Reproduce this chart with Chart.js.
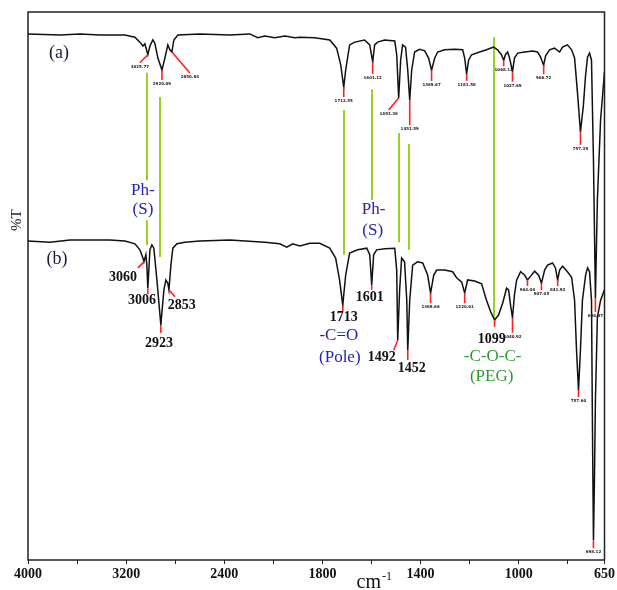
<!DOCTYPE html>
<html><head><meta charset="utf-8">
<script src="https://cdn.jsdelivr.net/npm/chart.js@4.4.0/dist/chart.umd.min.js"></script>
<style>html,body{margin:0;padding:0;background:#fff;}</style>
</head><body>
<canvas id="c" width="617" height="590"></canvas>
<script>
// ---- spectrum (a) ----
const wavenumberA = [4000,3739,3576,3414,3210,3128,3088,3063,3047,3023,3006,2982,2966,2941,2908,2884,2860,2843,2827,2811,2778,2599,2355,2192,2127,2069,1994,1953,1913,1892,1831,1770,1742,1725,1713,1705,1689,1668,1628,1607,1595,1587,1575,1546,1505,1497,1489,1481,1473,1461,1452,1444,1436,1424,1404,1383,1367,1355,1342,1330,1302,1261,1228,1220,1212,1204,1192,1159,1131,1102,1086,1070,1061,1053,1045,1037,1025,1017,1004,976,943,923,911,898,890,874,854,833,821,801,784,772,760,748,736,727,719,711,703,695,687,679,666,650];
const transA = [96.0,95.8,96.0,95.8,95.8,95.4,94.5,93.8,94.2,92.2,93.8,94.9,94.3,91.6,89.4,91.6,94.0,93.1,92.7,94.9,95.8,96.0,95.8,96.0,95.3,95.6,95.3,95.6,95.3,95.4,95.3,94.9,93.4,90.3,86.3,89.4,94.0,94.5,94.9,94.0,90.9,94.0,94.5,94.9,94.7,92.2,84.3,91.2,94.0,93.6,89.4,83.9,89.4,92.7,93.2,92.9,91.6,89.4,91.6,92.7,93.1,93.2,93.1,91.6,88.7,91.2,92.2,92.7,93.1,93.6,93.1,92.2,91.2,92.3,92.7,91.6,89.1,91.6,92.5,92.7,92.9,92.7,91.8,90.3,92.0,93.1,93.4,92.7,93.6,94.0,93.1,91.6,85.2,78.1,83.0,88.5,91.8,92.5,91.2,73.0,47.8,65.7,80.3,89.1];
// ---- spectrum (b) ----
const wavenumberB = [4000,3821,3658,3495,3332,3210,3128,3088,3063,3055,3039,3031,3023,3006,2990,2974,2949,2917,2892,2876,2860,2851,2835,2819,2786,2721,2599,2355,2069,1974,1945,1921,1892,1851,1811,1770,1746,1730,1717,1705,1689,1656,1619,1607,1599,1591,1579,1546,1505,1497,1493,1485,1477,1465,1456,1452,1444,1432,1412,1391,1371,1359,1346,1334,1302,1269,1253,1232,1220,1208,1179,1151,1131,1114,1098,1082,1065,1049,1041,1033,1025,1017,1008,992,976,964,951,935,919,907,894,882,862,850,841,833,821,801,784,772,764,756,748,740,727,719,711,703,699,695,691,687,679,666,650];
const transB = [58.2,58.0,58.4,58.4,58.4,58.2,57.7,56.6,55.1,54.4,55.7,53.8,49.6,56.6,57.5,56.9,51.1,42.9,49.3,51.1,50.5,49.3,53.8,56.9,57.7,58.0,58.2,58.4,58.0,57.7,57.1,57.7,57.3,57.8,57.8,56.9,55.1,51.1,46.5,52.0,56.0,56.6,56.9,55.7,50.2,55.7,56.6,56.8,56.9,52.9,40.1,49.3,55.1,54.4,47.4,38.3,47.4,53.8,54.4,54.2,52.0,48.7,52.0,52.9,52.9,52.6,51.5,50.7,48.7,51.1,50.9,50.4,47.4,45.3,43.8,44.7,46.9,49.6,49.3,46.5,44.2,48.4,51.1,52.6,52.0,51.1,51.8,52.7,52.0,50.5,52.9,53.8,54.2,53.3,51.1,52.9,53.6,52.6,51.6,47.4,38.3,31.0,38.3,47.4,52.0,53.3,52.6,47.4,23.7,3.6,14.6,29.2,44.3,47.4,49.3];

// ---- axis ticks ----
const tickValues = [4000,3600,3200,2800,2400,2000,1800,1600,1400,1200,1000,800,650];
const tickLabels = ['4000','','3200','','2400','','1800','','1400','','1000','','650'];

// ---- annotations ----
const greenLines = [ // wavenumber, from %T, to %T
  [3031,88.9,69.3],[3031,62.0,57.5],[2925,84.5,55.3],[1713,82.1,55.7],
  [1599,85.9,65.7],[1489,77.9,58.0],[1448,75.9,56.6],[1102,95.4,44.2]
];
const peakMarksA = [ // wavenumber, %T, leader dx, dy, small label
  [3023,92.2,-8,8,'3025.77'],[2908,89.4,0,10,'2920.09'],[2827,92.7,18,21,'2850.84'],
  [1713,86.3,0,10,'1712.55'],[1595,90.9,0,12,'1601.12'],[1489,84.3,-10,12,'1492.38'],
  [1444,83.9,0,25,'1451.59'],[1355,89.4,0,11,'1369.67'],[1212,88.7,0,7,'1181.58'],
  [1061,91.2,0,6,'1068.13'],[1025,89.1,0,10,'1027.69'],[898,90.3,0,9,'906.72'],
  [748,78.1,0,13,'757.39'],[687,47.8,0,14,'698.57']
];
const peakMarksB = [
  [3055,54.4,-6,6,''],[3023,49.6,0,6,''],[2917,42.9,0,8,''],[2851,49.3,6,7,''],
  [1717,46.5,0,6,''],[1599,50.2,0,5,''],[1493,40.1,-4,10,''],[1452,38.3,0,10,''],
  [1098,43.8,0,7,''],[1359,48.7,0,10,'1369.86'],[1220,48.7,0,10,'1220.61'],
  [1025,44.2,0,15,'1040.92'],[964,51.1,0,6,'964.00'],[907,50.5,0,7,'907.05'],
  [841,51.1,0,6,'841.92'],[756,31.0,0,7,'757.60'],[695,3.6,0,8,'698.12']
];
const textLabels = [ // text, wavenumber, %T, colour, font
  ['(a)',3747,92.5,'#1a1a3a','18px "Liberation Serif"'],
  ['(b)',3764,54.9,'#1a1a3a','18px "Liberation Serif"'],
  ['Ph-',3063,67.5,'#2424b0','17px "Liberation Serif"'],
  ['(S)',3063,63.9,'#2424b0','17px "Liberation Serif"'],
  ['Ph-',1591,63.9,'#2424b0','17px "Liberation Serif"'],
  ['(S)',1595,60.2,'#2424b0','17px "Liberation Serif"'],
  ['3060',3226,51.5,'#111','bold 14px "Liberation Serif"'],
  ['3006',3071,47.3,'#111','bold 14px "Liberation Serif"'],
  ['2853',2746,46.4,'#111','bold 14px "Liberation Serif"'],
  ['2923',2933,39.6,'#111','bold 14px "Liberation Serif"'],
  ['1713',1713,44.3,'#111','bold 14px "Liberation Serif"'],
  ['-C=O',1733,40.9,'#2424b0','17px "Liberation Serif"'],
  ['(Pole)',1729,37.0,'#2424b0','17px "Liberation Serif"'],
  ['1601',1607,48.0,'#111','bold 14px "Liberation Serif"'],
  ['1492',1558,37.0,'#111','bold 14px "Liberation Serif"'],
  ['1452',1436,34.9,'#111','bold 14px "Liberation Serif"'],
  ['1099',1110,40.3,'#111','bold 14px "Liberation Serif"'],
  ['-C-O-C-',1106,37.2,'#2e9a2e','17px "Liberation Serif"'],
  ['(PEG)',1110,33.4,'#2e9a2e','17px "Liberation Serif"']
];

// broken wavenumber axis: 4000-2000 compressed by 2
function toAxis(w){ return w >= 2000 ? 2000 + (w - 2000) / 2 : w; }
function pts(ws, ts){ return ws.map((w,i)=>({x: toAxis(w), y: ts[i]})); }

const annot = {
  id: 'annot',
  beforeDatasetsDraw(chart){
    const ctx = chart.ctx, xs = chart.scales.x, ys = chart.scales.y;
    ctx.save();
    ctx.strokeStyle = '#99d21a'; ctx.lineWidth = 2;
    greenLines.forEach(([w,t1,t2])=>{
      const x = Math.round(xs.getPixelForValue(toAxis(w)));
      ctx.beginPath(); ctx.moveTo(x, ys.getPixelForValue(t1)); ctx.lineTo(x, ys.getPixelForValue(t2)); ctx.stroke();
    });
    ctx.restore();
  },
  afterDatasetsDraw(chart){
    const ctx = chart.ctx, xs = chart.scales.x, ys = chart.scales.y, ca = chart.chartArea;
    ctx.save();
    const marks = (arr)=>arr.forEach(([w,t,dx,dy,txt])=>{
      const x = xs.getPixelForValue(toAxis(w)), y = ys.getPixelForValue(t);
      ctx.strokeStyle = '#ff2020'; ctx.lineWidth = 1.6;
      ctx.beginPath(); ctx.moveTo(x, y); ctx.lineTo(x+dx, y+dy); ctx.stroke();
      if (txt){
        ctx.fillStyle = '#222'; ctx.font = 'bold 4px "DejaVu Sans"';
        ctx.textAlign = 'center'; ctx.textBaseline = 'top';
        ctx.fillText(txt, x+dx, y+dy+2);
      }
    });
    marks(peakMarksA); marks(peakMarksB);
    textLabels.forEach(([txt,w,t,col,font])=>{
      ctx.fillStyle = col; ctx.font = font; ctx.textAlign = 'center'; ctx.textBaseline = 'middle';
      ctx.fillText(txt, xs.getPixelForValue(toAxis(w)), ys.getPixelForValue(t));
    });
    // frame
    ctx.strokeStyle = '#222'; ctx.lineWidth = 1.5;
    ctx.strokeRect(ca.left, ca.top, ca.right - ca.left, ca.bottom - ca.top);
    // axis titles
    ctx.fillStyle = '#111';
    ctx.font = '20px "Liberation Serif"'; ctx.textAlign = 'left'; ctx.textBaseline = 'alphabetic';
    const cx = ca.left + (ca.right - ca.left) * 0.57;
    ctx.fillText('cm', cx, 588);
    const cw = ctx.measureText('cm').width;
    ctx.font = '12px "Liberation Serif"';
    ctx.fillText('-1', cx + cw + 1, 580);
    ctx.save();
    ctx.translate(ca.left - 11, ca.top + (ca.bottom - ca.top) * 0.38);
    ctx.rotate(-Math.PI/2);
    ctx.font = '15px "Liberation Serif"'; ctx.fillStyle = '#1a1a3a';
    ctx.textAlign = 'center'; ctx.textBaseline = 'middle';
    ctx.fillText('%T', 0, 0);
    ctx.restore();
    ctx.restore();
  }
};

new Chart(document.getElementById('c'), {
  type: 'line',
  data: {
    datasets: [
      { label: '(a)', data: pts(wavenumberA, transA), borderColor: '#111', borderWidth: 1.5, pointRadius: 0, tension: 0, fill: false },
      { label: '(b)', data: pts(wavenumberB, transB), borderColor: '#111', borderWidth: 1.5, pointRadius: 0, tension: 0, fill: false }
    ]
  },
  options: {
    responsive: false, animation: false, devicePixelRatio: 1,
    layout: { padding: { left: 28, right: 12, top: 12, bottom: 0 } },
    plugins: { legend: { display: false }, tooltip: { enabled: false } },
    scales: {
      x: {
        type: 'linear', min: 650, max: 3000, reverse: true,
        afterBuildTicks: (s) => { s.ticks = tickValues.map(w => ({ value: toAxis(w) })); },
        afterFit: (s) => { s.height = 30; },
        ticks: { autoSkip: false, maxRotation: 0, padding: 2, color: '#111',
          font: { family: 'Liberation Serif', size: 14, weight: 'bold' },
          callback: (v, i) => tickLabels[i] },
        grid: { drawOnChartArea: false, drawTicks: true, tickLength: 4, color: '#222' },
        border: { display: false }
      },
      y: { type: 'linear', min: 0, max: 100, display: false }
    }
  },
  plugins: [annot]
});
</script>
</body></html>
